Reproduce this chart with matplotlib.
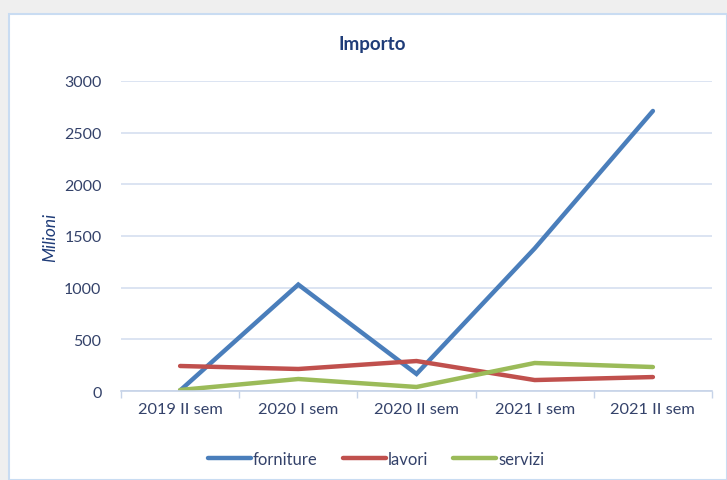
import matplotlib
matplotlib.use("Agg")
import matplotlib.pyplot as plt
from matplotlib.patches import Rectangle

categories = ["2019 II sem", "2020 I sem", "2020 II sem", "2021 I sem", "2021 II sem"]
forniture = [5, 1030, 165, 1380, 2710]
lavori = [242, 213, 290, 106, 135]
servizi = [10, 116, 39, 271, 232]
yticks = [0, 500, 1000, 1500, 2000, 2500, 3000]

plt.rcParams["font.family"] = ["Lato", "DejaVu Sans"]
W, H = 727, 481
fig = plt.figure(figsize=(W / 100, H / 100), dpi=100)
fig.patch.set_facecolor("#efefef")

# white chart area with light blue frame
fig.patches.append(Rectangle((8.5 / W, 0), 1 - 8.5 / W, 1 - 14.5 / H, transform=fig.transFigure,
                             facecolor="white", edgecolor="#c9dcf2", linewidth=1.5, zorder=-1))

ax = fig.add_axes([121 / W, 1 - 392 / H, (712 - 121) / W, (392 - 82) / H])
ax.set_zorder(2)
ax.set_facecolor("none")

x = list(range(len(categories)))
ax.plot(x, forniture, color="#4a7ebb", lw=3.2, label="forniture", solid_capstyle="round", solid_joinstyle="miter")
ax.plot(x, lavori, color="#c0504d", lw=3.2, label="lavori", solid_capstyle="round")
ax.plot(x, servizi, color="#9bbb59", lw=3.2, label="servizi", solid_capstyle="round")

ax.set_xlim(-0.5, len(categories) - 0.5)
ax.set_ylim(0, 3000)
ax.set_yticks(yticks)
ax.set_xticks(x)
ax.set_xticklabels(categories)
ax.set_xticks([i - 0.5 for i in range(len(categories) + 1)], minor=True)

txt = "#34426a"
ax.tick_params(axis="y", length=0, pad=14, labelsize=11.5, labelcolor=txt)
ax.tick_params(axis="x", which="major", length=0, pad=8, labelsize=11.8, labelcolor=txt)
ax.tick_params(axis="x", which="minor", length=5, color="#c6d3e8", width=1)
ax.grid(axis="y", color="#d5dff0", lw=1.2)
ax.set_axisbelow(True)
for s in ["top", "right", "left"]:
    ax.spines[s].set_visible(False)
ax.spines["bottom"].set_color("#c6d3e8")
ax.spines["bottom"].set_linewidth(1.2)

# title centred on the whole chart area rather than the plot area
fig.text(372 / W, 1 - 45 / H, "Importo", fontsize=13.5, fontweight="bold", color="#1f3c78",
         ha="center", va="center")
ax.set_ylabel("Milioni", fontsize=12.5, style="italic", color="#1f3c78", labelpad=4)

leg = fig.legend(*ax.get_legend_handles_labels(), loc="center", bbox_to_anchor=(376 / W, 1 - 460 / H),
                 ncol=3, frameon=False, fontsize=12, handlelength=2.6, handletextpad=0.1,
                 columnspacing=1.5)
for t in leg.get_texts():
    t.set_color(txt)

fig.savefig("out.png", dpi=100, facecolor=fig.get_facecolor())
